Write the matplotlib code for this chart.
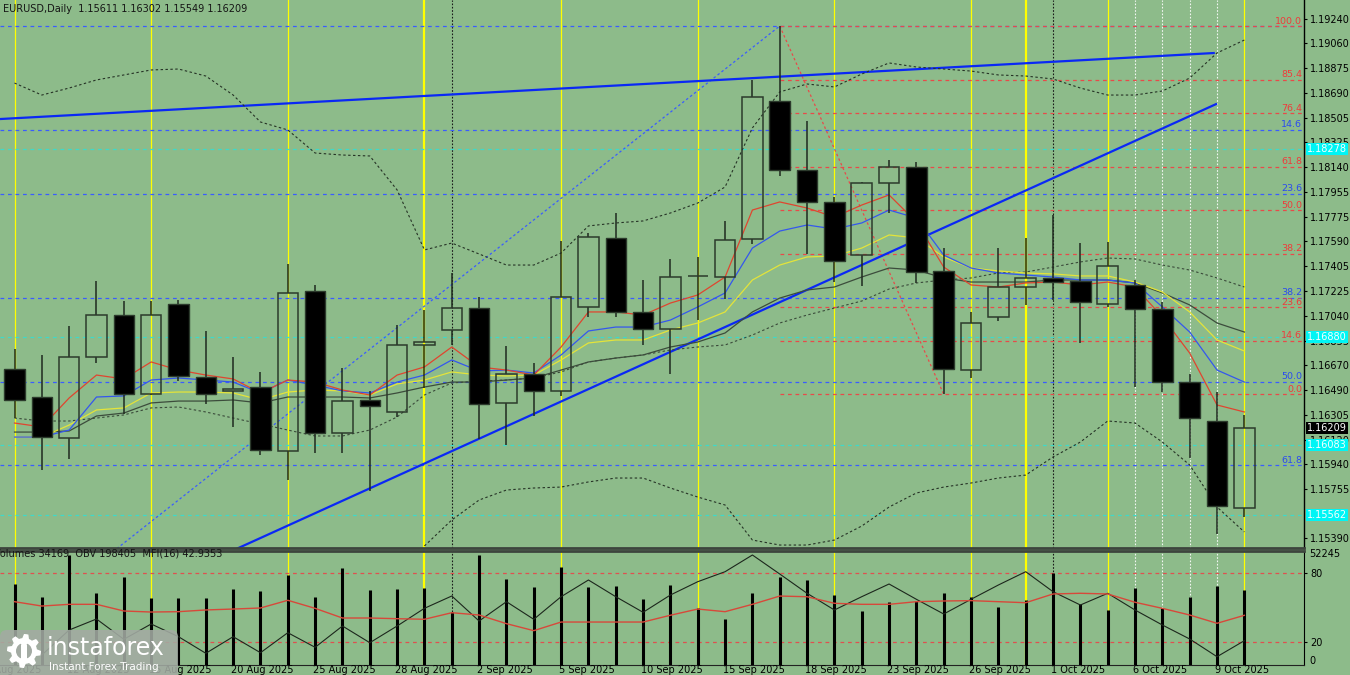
import numpy as np
import matplotlib
matplotlib.use("Agg")
import matplotlib.pyplot as plt
from matplotlib.patches import Rectangle, FancyBboxPatch, Circle, Polygon
from matplotlib.transforms import blended_transform_factory as blend

plt.rcParams['font.family'] = ['DejaVu Sans']

# ------------------------------------------------------------------ data
symbol_title = "EURUSD,Daily  1.15611 1.16302 1.15549 1.16209"
indicator_title = "Volumes 34169  OBV 198405  MFI(16) 42.9353"

open_p = [1.16644, 1.16436, 1.16132, 1.16733, 1.17044, 1.16458, 1.17126, 1.16584, 1.16481, 1.16510,
          1.16035, 1.17222, 1.16169, 1.16414, 1.16325, 1.16822, 1.16933, 1.17096, 1.16391, 1.16607,
          1.16481, 1.17104, 1.17615, 1.17067, 1.16940, 1.17334, 1.17326, 1.17608, 1.18632, 1.18120,
          1.17883, 1.17489, 1.18023, 1.18142, 1.17371, 1.16636, 1.17030, 1.17252, 1.17319, 1.17297,
          1.17126, 1.17267, 1.17089, 1.16547, 1.16258, 1.15611]
high_p = [1.16792, 1.16748, 1.16963, 1.17297, 1.17148, 1.17148, 1.17156, 1.16926, 1.16733, 1.16621,
          1.17423, 1.17267, 1.16651, 1.16481, 1.16970, 1.17081, 1.17356, 1.17178, 1.16814, 1.16688,
          1.17593, 1.17653, 1.17801, 1.17304, 1.17460, 1.17475, 1.17742, 1.18788, 1.19188, 1.18483,
          1.17920, 1.18030, 1.18194, 1.18179, 1.17541, 1.17067, 1.17541, 1.17616, 1.17786, 1.17578,
          1.17586, 1.17304, 1.17141, 1.16607, 1.16473, 1.16302]
low_p = [1.16280, 1.15895, 1.15976, 1.16688, 1.16310, 1.16451, 1.16555, 1.16384, 1.16213, 1.16006,
         1.15820, 1.16021, 1.16021, 1.15739, 1.16288, 1.16503, 1.16822, 1.16124, 1.16080, 1.16295,
         1.16443, 1.17029, 1.17029, 1.16822, 1.16607, 1.17007, 1.17163, 1.17571, 1.18075, 1.17497,
         1.17289, 1.17259, 1.17801, 1.17282, 1.16456, 1.16577, 1.17000, 1.17119, 1.17156, 1.16837,
         1.17104, 1.16510, 1.16473, 1.15984, 1.15420, 1.15549]
close_p = [1.16414, 1.16139, 1.16733, 1.17044, 1.16458, 1.17044, 1.16592, 1.16458, 1.16495, 1.16043,
           1.17207, 1.16169, 1.16406, 1.16369, 1.16822, 1.16844, 1.17096, 1.16384, 1.16607, 1.16481,
           1.17178, 1.17623, 1.17067, 1.16940, 1.17326, 1.17337, 1.17601, 1.18661, 1.18120, 1.17883,
           1.17445, 1.18023, 1.18142, 1.17363, 1.16644, 1.16985, 1.17252, 1.17319, 1.17289, 1.17141,
           1.17408, 1.17089, 1.16547, 1.16280, 1.15627, 1.16209]

ma_red = [1.16243, 1.16214, 1.16429, 1.16599, 1.16570, 1.16696, 1.16636, 1.16599, 1.16570, 1.16466,
          1.16562, 1.16547, 1.16488, 1.16451, 1.16599, 1.16659, 1.16807, 1.16659, 1.16636, 1.16599,
          1.16807, 1.17067, 1.17067, 1.17044, 1.17133, 1.17193, 1.17326, 1.17823, 1.17883, 1.17838,
          1.17771, 1.17860, 1.17935, 1.17734, 1.17400, 1.17267, 1.17252, 1.17282, 1.17289, 1.17267,
          1.17289, 1.17252, 1.17030, 1.16762, 1.16377, 1.16325]
ma_blue = [1.16139, 1.16139, 1.16191, 1.16436, 1.16444, 1.16562, 1.16577, 1.16562, 1.16547, 1.16466,
           1.16562, 1.16525, 1.16481, 1.16466, 1.16547, 1.16599, 1.16711, 1.16629, 1.16636, 1.16614,
           1.16748, 1.16926, 1.16955, 1.16955, 1.17007, 1.17104, 1.17208, 1.17541, 1.17667, 1.17712,
           1.17682, 1.17727, 1.17823, 1.17764, 1.17489, 1.17393, 1.17356, 1.17341, 1.17326, 1.17304,
           1.17304, 1.17282, 1.17104, 1.16918, 1.16636, 1.16547]
ma_yellow = [1.16139, 1.16139, 1.16228, 1.16340, 1.16355, 1.16466, 1.16473, 1.16473, 1.16466, 1.16414,
             1.16473, 1.16488, 1.16481, 1.16451, 1.16533, 1.16562, 1.16622, 1.16599, 1.16592, 1.16599,
             1.16711, 1.16837, 1.16859, 1.16859, 1.16933, 1.16985, 1.17067, 1.17304, 1.17415, 1.17475,
             1.17482, 1.17541, 1.17638, 1.17616, 1.17475, 1.17393, 1.17371, 1.17356, 1.17349, 1.17334,
             1.17334, 1.17289, 1.17215, 1.17067, 1.16859, 1.16777]
ma_gray = [1.16176, 1.16176, 1.16184, 1.16295, 1.16317, 1.16392, 1.16406, 1.16406, 1.16414, 1.16392,
           1.16436, 1.16436, 1.16436, 1.16429, 1.16466, 1.16510, 1.16547, 1.16547, 1.16562, 1.16577,
           1.16636, 1.16696, 1.16725, 1.16748, 1.16807, 1.16844, 1.16911, 1.17067, 1.17170, 1.17230,
           1.17252, 1.17326, 1.17393, 1.17378, 1.17319, 1.17289, 1.17289, 1.17289, 1.17304, 1.17304,
           1.17304, 1.17282, 1.17208, 1.17119, 1.16985, 1.16918]
bb_mid = [1.16280, 1.16258, 1.16258, 1.16280, 1.16303, 1.16355, 1.16362, 1.16325, 1.16280, 1.16236,
          1.16191, 1.16147, 1.16147, 1.16191, 1.16288, 1.16451, 1.16540, 1.16555, 1.16562, 1.16577,
          1.16622, 1.16696, 1.16725, 1.16748, 1.16785, 1.16807, 1.16822, 1.16896, 1.16985, 1.17044,
          1.17096, 1.17148, 1.17237, 1.17282, 1.17304, 1.17319, 1.17356, 1.17363, 1.17400, 1.17438,
          1.17467, 1.17460, 1.17415, 1.17378, 1.17319, 1.17252]
bb_up = [1.18765, 1.18676, 1.18728, 1.18788, 1.18825, 1.18862, 1.18869, 1.18817, 1.18676, 1.18476,
         1.18417, 1.18246, 1.18231, 1.18224, 1.17972, 1.17527, 1.17578, 1.17497, 1.17415, 1.17415,
         1.17504, 1.17705, 1.17727, 1.17742, 1.17801, 1.17875, 1.17994, 1.18432, 1.18699, 1.18758,
         1.18736, 1.18832, 1.18914, 1.18884, 1.18869, 1.18854, 1.18825, 1.18817, 1.18795, 1.18728,
         1.18676, 1.18676, 1.18706, 1.18802, 1.18988, 1.19084]
bb_low = [1.13832, 1.13840, 1.13788, 1.13772, 1.13781, 1.13848, 1.13855, 1.13833, 1.13884, 1.13996,
          1.13965, 1.14048, 1.14063, 1.14158, 1.14604, 1.15331, 1.15524, 1.15672, 1.15746, 1.15761,
          1.15768, 1.15806, 1.15835, 1.15835, 1.15761, 1.15694, 1.15635, 1.15375, 1.15338, 1.15338,
          1.15375, 1.15479, 1.15620, 1.15724, 1.15768, 1.15798, 1.15835, 1.15857, 1.15991, 1.16102,
          1.16258, 1.16243, 1.16102, 1.15932, 1.15620, 1.15435]

volumes = [36530, 30610, 49880, 32700, 39990, 30150, 30150, 30150, 34530, 33620,
           40900, 30880, 43960, 33930, 34390, 34980, 23910, 49880, 38810, 35440,
           44550, 35160, 35760, 29700, 36210, 25600, 20730, 32430, 39720, 38490,
           31790, 24370, 28610, 29060, 32430, 30880, 26330, 29380, 41810, 27420,
           24820, 34710, 25600, 30610, 35760, 34169]
obv = [199805, 169805, 219805, 241805, 201205, 231805, 206405, 173205, 206405, 174405,
       214405, 185205, 227805, 194405, 227805, 263205, 287805, 237805, 276405, 241205,
       286405, 319805, 286405, 255205, 289805, 316405, 336405, 369805, 331805, 293205,
       259805, 286405, 311805, 281205, 251805, 281205, 309805, 336405, 296405, 269805,
       293205, 259805, 229805, 201805, 166405, 198405]
mfi = [54.8, 51.0, 52.5, 52.5, 46.7, 45.8, 46.1, 47.6, 48.4, 49.3,
       56.0, 49.0, 40.6, 40.6, 40.0, 39.5, 45.2, 43.2, 35.7, 29.6,
       37.1, 37.1, 37.1, 37.1, 43.0, 48.4, 46.1, 52.5, 59.7, 59.1,
       53.4, 52.5, 52.5, 54.8, 55.4, 55.7, 54.8, 53.9, 61.5, 62.1,
       61.5, 54.3, 49.0, 43.2, 36.0, 42.94]

# date labels (bar index -> text)
date_label_idx = [-1, 2, 5, 8, 11, 14, 17, 20, 23, 26, 29, 32, 35, 38, 41, 44]
date_labels = ["7 Aug 2025", "12 Aug 2025", "15 Aug 2025", "20 Aug 2025", "25 Aug 2025",
               "28 Aug 2025", "2 Sep 2025", "5 Sep 2025", "10 Sep 2025", "15 Sep 2025",
               "18 Sep 2025", "23 Sep 2025", "26 Sep 2025", "1 Oct 2025", "6 Oct 2025", "9 Oct 2025"]

# right-axis grid prices (1.15570 is hidden under a level label in the original)
price_ticks = [1.19240, 1.19060, 1.18875, 1.18690, 1.18505, 1.18325, 1.18140, 1.17955, 1.17775,
               1.17590, 1.17405, 1.17225, 1.17040, 1.16855, 1.16670, 1.16490, 1.16305, 1.16120,
               1.15940, 1.15755, 1.15390]

# Fibonacci retracements
red_fib_hi_idx, red_fib_lo_idx = 28, 34
red_fib_hi, red_fib_lo = 1.19188, 1.16456
red_fib_levels = [0.0, 14.6, 23.6, 38.2, 50.0, 61.8, 76.4, 85.4, 100.0]
blue_fib_lo_idx, blue_fib_hi_idx = -5, 28
blue_fib_lo, blue_fib_hi = 1.13914, 1.19188
blue_fib_levels = [0.0, 14.6, 23.6, 38.2, 50.0, 61.8]
blue_fib_labelled = [14.6, 23.6, 38.2, 50.0, 61.8]

# horizontal cyan levels and labels
cyan_levels = [1.18278, 1.16880, 1.16083, 1.15562]
current_price = 1.16209

# trend lines (bar index, price)
trend1_x, trend1_y = [-0.53, 43.92], [1.18498, 1.18988]
trend2_x, trend2_y = [6.0, 44.0], [1.15114, 1.18612]

# vertical separators (bar index)
yellow_idx = [0, 5, 10, 15, 20, 25, 30, 35, 37, 40, 45]
yellow_thick = [15, 37]
black_dot_idx = [16, 38]
white_dot_idx = [41, 42, 43, 44]

# ------------------------------------------------------------------ layout
W, H = 1350, 675
BG = '#8DBB8A'
X0, DX = 14.5, 27.33
PLOT_R = 1304


def px2x(px):
    return (px - X0) / DX


XL = (px2x(0), px2x(PLOT_R))
idx = np.arange(len(open_p))

fig = plt.figure(figsize=(W / 100, H / 100), dpi=100)
fig.patch.set_facecolor(BG)

main_bot = 548
ax = fig.add_axes([0, 1 - main_bot / H, PLOT_R / W, main_bot / H])
ax.set_facecolor(BG)
ax.set_xlim(*XL)
ax.set_ylim(1.15316, 1.19381)

low_top, low_bot = 550.5, 664.7
rect2 = [0, 1 - low_bot / H, PLOT_R / W, (low_bot - low_top) / H]
ax2 = fig.add_axes(rect2)
ax2.set_facecolor(BG)
ax2.set_xlim(*XL)
ax2.set_ylim(0, 99.3)
axv = fig.add_axes(rect2, frameon=False)
axv.set_xlim(*XL); axv.set_ylim(0, 51900); axv.axis('off')
axo = fig.add_axes(rect2, frameon=False)
axo.set_xlim(*XL); axo.set_ylim(150405, 378805); axo.axis('off')
axm = fig.add_axes(rect2, frameon=False)
axm.set_xlim(*XL); axm.set_ylim(0, 99.3); axm.axis('off')

# ---- vertical lines (both panels)
for a in (ax, ax2):
    for i in yellow_idx:
        a.axvline(i, color='#FFFF00', lw=1.6 if i in yellow_thick else 0.9, zorder=0.6)
    for i in black_dot_idx:
        a.axvline(i, color='#1a1a1a', lw=0.8, ls=(0, (1.5, 1.5)), zorder=0.6)
    for i in white_dot_idx:
        a.axvline(i, color='#F2F6F2', lw=0.8, ls=(0, (1.5, 1.5)), zorder=0.6)

# ---- horizontal levels
dash = (0, (3, 3))
for lv in blue_fib_levels:
    p = blue_fib_hi - lv / 100 * (blue_fib_hi - blue_fib_lo)
    ax.plot([XL[0], XL[1]], [p, p], color='#3A5CFF', lw=0.9, ls=dash, zorder=0.8)
for lv in red_fib_levels:
    p = red_fib_lo + lv / 100 * (red_fib_hi - red_fib_lo)
    ax.plot([red_fib_hi_idx, XL[1]], [p, p], color='#E84A4A', lw=0.9, ls=dash, zorder=0.8)
for p in cyan_levels:
    ax.axhline(p, color='#3FD9C9', lw=0.9, ls=dash, zorder=0.8)

# fib diagonals
ax.plot([blue_fib_lo_idx, blue_fib_hi_idx], [blue_fib_lo, blue_fib_hi], color='#3A5CFF',
        lw=0.9, ls=(0, (2, 2)), zorder=0.9)
ax.plot([red_fib_hi_idx, red_fib_lo_idx], [red_fib_hi, red_fib_lo], color='#E84A4A',
        lw=0.9, ls=(0, (2, 2)), zorder=0.9)

# fib labels
tx = px2x(1302)
for lv in red_fib_levels:
    p = red_fib_lo + lv / 100 * (red_fib_hi - red_fib_lo)
    ax.text(tx, p + 0.00003, f"{lv:.1f}", color='#F03A3A', fontsize=6.8, ha='right',
            va='bottom', zorder=5)
for lv in blue_fib_labelled:
    p = blue_fib_hi - lv / 100 * (blue_fib_hi - blue_fib_lo)
    ax.text(tx, p + 0.00003, f"{lv:.1f}", color='#2A4AF0', fontsize=6.8, ha='right',
            va='bottom', zorder=5)

# trend lines
ax.plot(trend1_x, trend1_y, color='#0A28F5', lw=1.6, zorder=1.5, solid_capstyle='butt')
ax.plot(trend2_x, trend2_y, color='#0A28F5', lw=1.6, zorder=1.5, solid_capstyle='butt')

# moving averages and bands
band_ls = (0, (2.2, 2.2))
ax.plot(idx, bb_up, color='#263326', lw=0.8, ls=band_ls, zorder=2)
ax.plot(idx, bb_low, color='#263326', lw=0.8, ls=band_ls, zorder=2)
ax.plot(idx, bb_mid, color='#3a4a3a', lw=0.8, ls=band_ls, zorder=2)
ax.plot(idx, ma_gray, color='#3c4c3c', lw=0.9, zorder=2.1)
ax.plot(idx, ma_yellow, color='#E4E43A', lw=0.9, zorder=2.2)
ax.plot(idx, ma_blue, color='#3457EE', lw=0.9, zorder=2.3)
ax.plot(idx, ma_red, color='#E0452F', lw=0.9, zorder=2.4)

# candles
BW = 0.75
edge = '#2c3a2c'
for i in idx:
    o, h, l, c = open_p[i], high_p[i], low_p[i], close_p[i]
    top, bot = max(o, c), min(o, c)
    ax.plot([i, i], [top, h], color='#1f2a1f', lw=1.1, zorder=3, solid_capstyle='butt')
    ax.plot([i, i], [l, bot], color='#1f2a1f', lw=1.1, zorder=3, solid_capstyle='butt')
    hgt = max(top - bot, 0.00002)
    if c < o:
        ax.add_patch(Rectangle((i - BW / 2, bot), BW, hgt, fc='black', ec=edge, lw=1.0, zorder=4))
    else:
        ax.add_patch(Rectangle((i - BW / 2, bot), BW, hgt, fc='none', ec=edge, lw=1.1, zorder=4))

# ---- axes styling main
for s in ('top', 'left'):
    ax.spines[s].set_visible(False)
ax.spines['right'].set_color('black'); ax.spines['right'].set_linewidth(1.0)
ax.spines['bottom'].set_color('#3d453d'); ax.spines['bottom'].set_linewidth(2.0)
ax.set_xticks([])
ax.yaxis.tick_right()
ax.set_yticks(price_ticks)
ax.set_yticklabels([f"{p:.5f}" for p in price_ticks])
ax.tick_params(axis='y', direction='out', length=2.5, width=0.8, labelsize=7, pad=2,
               colors='black')

tb = blend(ax.transAxes, ax.transData)
for p in cyan_levels:
    ax.text(1.0 + 3 / PLOT_R, p, f"{p:.5f}", transform=tb, ha='left', va='center',
            fontsize=7, color='#F4FFFF', zorder=6,
            bbox=dict(boxstyle='square,pad=0.1', fc='#00F5F5', ec='none'))
ax.text(1.0 + 3 / PLOT_R, current_price, f"{current_price:.5f}", transform=tb, ha='left',
        va='center', fontsize=7, color='white', zorder=6,
        bbox=dict(boxstyle='square,pad=0.1', fc='black', ec='none'))

# ---- lower panel
ax2.axhline(80, color='#E05050', lw=0.9, ls=dash, zorder=0.8)
ax2.axhline(20, color='#E05050', lw=0.9, ls=dash, zorder=0.8)
axv.vlines(idx, 0, volumes, color='black', lw=2.2)
axo.plot(idx, obv, color='#1c261c', lw=0.8)
axm.plot(idx, mfi, color='#D8483A', lw=1.0)

ax2.spines['left'].set_visible(False)
ax2.spines['top'].set_color('#3d453d'); ax2.spines['top'].set_linewidth(2.0)
ax2.spines['right'].set_color('black'); ax2.spines['bottom'].set_color('#222')
ax2.set_xticks([])
ax2.yaxis.tick_right()
ax2.set_yticks([20, 80])
ax2.set_yticklabels(['20', '80'])
ax2.tick_params(axis='y', direction='out', length=2.5, width=0.8, labelsize=7, pad=2,
                colors='black')
tb2 = blend(ax2.transAxes, ax2.transData)
ax2.text(1.0 + 5 / PLOT_R, 3.5, "0", transform=tb2, ha='left', va='center', fontsize=7)
ax2.text(1.0 + 5 / PLOT_R, 96.3, f"{52245}", transform=tb2, ha='left', va='center', fontsize=7)

tbx = blend(ax2.transData, ax2.transAxes)
for i, lab in zip(date_label_idx, date_labels):
    ax2.text(i - 0.08, -0.048, lab, transform=tbx, ha='left', va='center', fontsize=7,
             color='black', clip_on=False)

fig.text(3 / W, 1 - 9 / H, symbol_title, fontsize=7, va='center', color='#151515')
fig.text(-6 / W, 1 - 554 / H, indicator_title, fontsize=7, va='center', color='#151515')

# ---- logo overlay (pixel coordinates)
lay = fig.add_axes([0, 0, 1, 1], facecolor='none')
lay.set_xlim(0, W); lay.set_ylim(H, 0); lay.axis('off')
lay.add_patch(FancyBboxPatch((0, 630), 178, 52, boxstyle='round,pad=0,rounding_size=7',
                             fc='#a3aba3', ec='none', alpha=0.88))
gx, gy = 24, 651
ang = np.linspace(0, 2 * np.pi, 49)[:-1]
rad = np.where((np.arange(48) // 3) % 2 == 0, 17, 13)
lay.add_patch(Polygon(np.c_[gx + rad * np.cos(ang), gy + rad * np.sin(ang)], closed=True,
                      fc='white', ec='none'))
lay.add_patch(Circle((gx, gy), 8, fc='#a3aba3', ec='none'))
lay.add_patch(Rectangle((gx - 3, gy - 6), 6, 18, fc='white', ec='none'))
lay.add_patch(Circle((gx, gy - 8), 3.2, fc='white', ec='none'))
lay.text(47, 648, 'instaforex', fontsize=17, color='white', va='center', ha='left')
lay.text(49, 667, 'Instant Forex Trading', fontsize=7.5, color='white', va='center', ha='left')

fig.savefig('out.png', dpi=100, facecolor=BG)
